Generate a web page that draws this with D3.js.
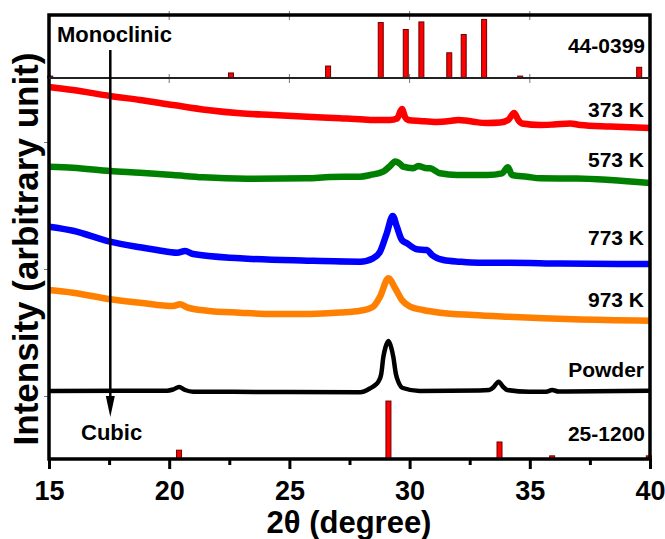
<!DOCTYPE html>
<html>
<head>
<meta charset="utf-8">
<script src="https://cdn.jsdelivr.net/npm/d3@7"></script>
<style>
  body { margin: 0; background: #fff; }
  text { font-family: "Liberation Sans", Arial, sans-serif; font-weight: bold; fill: #000; }
</style>
</head>
<body>
<svg id="chart" width="665" height="539"></svg>
<script>

// 2theta tick labels
var xTicks = [15, 20, 25, 30, 35, 40];
var xMinor = [17.5, 22.5, 27.5, 32.5, 37.5];

// reference card 44-0399 (monoclinic), relative intensity
var monoPos = [15.05, 22.57, 26.61, 28.80, 29.84, 30.49, 31.65, 32.25, 33.10, 34.60, 39.55];
var monoInt = [3, 8, 19, 88, 77, 89, 40, 69, 93, 3, 17];

// reference card 25-1200 (cubic), relative intensity
var cubicPos = [20.41, 29.12, 33.74, 35.93, 39.95];
var cubicInt = [14, 92, 27, 5, 5];

// measured patterns, [2theta, intensity a.u.] (already stacked)
var k373 = [[15.0,309],[16.0,306],[17.54,300],[18.79,296],[20.16,291],[21.58,286],[22.95,282.7],
  [24.32,281],[25.74,279.3],[27.11,277.7],[27.94,276.7],[28.36,276],[29.19,276],[29.48,277.5],
  [29.68,287],[29.81,279],[29.94,276],[30.44,275],[31.13,274],[31.69,275],[32.02,276],[32.31,275.5],
  [32.73,274],[33.23,273],[33.77,273.5],[34.10,276],[34.35,283],[34.52,276],[34.68,272.5],
  [35.43,271],[36.0,271.5],[36.68,272.5],[37.1,271],[38.35,269.5],[40.0,268]];

var k573 = [[15.0,229.3],[16.0,228.3],[17.54,225],[18.79,223.3],[20.16,221],[21.41,218.7],[23.24,217.3],
  [25.74,217.7],[26.69,219],[27.94,219.3],[28.36,221],[28.90,224.3],[29.19,230],[29.40,234.5],
  [29.61,232],[29.73,229.3],[30.15,227.7],[30.36,230],[30.65,228],[30.86,227.7],[31.27,222.7],
  [31.98,221],[33.23,221],[33.85,222.7],[34.09,228.7],[34.26,221],[34.88,219.3],[35.43,217.7],
  [36.97,217.5],[38.35,216],[40.0,213]];

var k773 = [[15.0,169.3],[16.0,165.3],[17.54,154.3],[18.79,148.7],[19.49,146],[20.33,143.3],[20.66,145],
  [21.0,142],[22.95,137.7],[25.74,135.3],[27.94,134.3],[28.48,137.7],[28.77,144.3],[29.05,162.7],
  [29.30,180],[29.47,169.3],[29.68,156],[29.89,152.7],[30.30,146.7],[30.72,146],[30.93,141],
  [31.41,136],[32.10,134.3],[32.85,133.3],[34.14,133.3],[36.27,132.5],[40.0,132]];

var k973 = [[15.0,106],[16.0,103.3],[17.54,96.7],[18.79,93.3],[20.16,90],[20.45,91.7],[20.74,88.7],
  [21.58,85.3],[22.95,83.3],[24.32,82],[25.74,82],[26.40,82.5],[27.11,83.5],[27.94,85.3],
  [28.48,89.3],[28.77,99.3],[29.12,117.7],[29.40,107.7],[29.68,96],[30.02,89.3],[30.56,86],
  [31.27,83.3],[32.64,81],[34.06,79.3],[36.81,76.7],[40.0,75.3]];

var powder = [[15.0,5],[19.91,5.3],[20.16,6.5],[20.41,9],[20.66,6],[21.0,4.3],[25.0,4],[27.94,3.7],
  [28.36,7.7],[28.57,11],[28.70,14.3],[28.82,22],[28.91,39.3],[29.0,49],[29.12,55],[29.23,49],
  [29.32,39.3],[29.43,22],[29.53,14.3],[29.72,8],[30.42,5],[32.90,5.5],[33.31,6],[33.50,9],
  [33.70,14.3],[33.90,9],[34.06,6],[34.98,4.3],[35.68,4.3],[35.93,6],[36.2,4.5],[40.0,5.3]];

var traces = [k373, k573, k773, k973, powder];
var traceNames = ["373 K", "573 K", "773 K", "973 K", "Powder"];
var labelLevel = [279, 229, 151, 89, 19];

var traceColors = ["#ff0000", "#008000", "#0000ff", "#ff8000", "#000000"];

var svg = d3.select("#chart");

var x = d3.scaleLinear().domain([15, 40]).range([49, 650]);
var yTop = d3.scaleLinear().domain([0, 100]).range([78, 15]);
var yMain = d3.scaleLinear().domain([0, 318]).range([396, 78]);
var yBot = d3.scaleLinear().domain([0, 100]).range([459, 396]);

/*
 * axes
 */
var xAxis = svg.append("g")
    .attr("transform", "translate(0," + yBot(0) + ")")
    .call(d3.axisBottom(x).tickValues(xTicks).tickSize(10).tickPadding(12).tickFormat(d3.format("d")));
xAxis.select(".domain").remove();
xAxis.selectAll("line").attr("stroke", "#000").attr("stroke-width", 3);
xAxis.selectAll("text").style("font-size", "27px");

var xAxisMinor = svg.append("g")
    .attr("transform", "translate(0," + yBot(0) + ")")
    .call(d3.axisBottom(x).tickValues(xMinor).tickSize(6).tickFormat(""));
xAxisMinor.select(".domain").remove();
xAxisMinor.selectAll("line").attr("stroke", "#000").attr("stroke-width", 3);

// little grey ticks on the divider and top frame
[yTop(0), yTop(100)].forEach(function(yy){
  svg.append("g").selectAll("line")
    .data(xTicks.slice(1, -1))
    .join("line")
      .attr("x1", function(d){ return x(d); })
      .attr("x2", function(d){ return x(d); })
      .attr("y1", yy - 4)
      .attr("y2", yy + 5)
      .attr("stroke", "#777")
      .attr("stroke-width", 1);
});

var yAxis = svg.append("g")
    .attr("transform", "translate(" + x(15) + ",0)")
    .call(d3.axisLeft(yMain).tickValues([0, 127, 254]).tickSize(5).tickFormat(""));
yAxis.select(".domain").remove();
yAxis.selectAll("line").attr("stroke", "#777");

/*
 * reference sticks
 */
svg.append("g").selectAll("rect")
  .data(monoPos)
  .join("rect")
    .attr("x", function(d){ return x(d) - 2.5; })
    .attr("y", function(d, i){ return yTop(monoInt[i]); })
    .attr("width", 5)
    .attr("height", function(d, i){ return yTop(0) - yTop(monoInt[i]); })
    .attr("fill", "#ff0000")
    .attr("stroke", "#6a0000")
    .attr("stroke-width", 1);

svg.append("g").selectAll("rect")
  .data(cubicPos)
  .join("rect")
    .attr("x", function(d){ return x(d) - 2.5; })
    .attr("y", function(d, i){ return yBot(cubicInt[i]); })
    .attr("width", 5)
    .attr("height", function(d, i){ return yBot(0) - yBot(cubicInt[i]); })
    .attr("fill", "#ff0000")
    .attr("stroke", "#6a0000")
    .attr("stroke-width", 1);

/*
 * patterns
 */
var line = d3.line()
    .x(function(d){ return x(d[0]); })
    .y(function(d){ return yMain(d[1]); })
    .curve(d3.curveMonotoneX);

svg.append("g").selectAll("path")
  .data(traces)
  .join("path")
    .attr("d", line)
    .attr("fill", "none")
    .attr("stroke", function(d, i){ return traceColors[i]; })
    .attr("stroke-width", function(d, i){ return i == 4 ? 4.5 : 6.5; })
    .attr("stroke-linejoin", "round");

svg.append("g").selectAll("text")
  .data(traceNames)
  .join("text")
    .attr("x", x(40) - 6)
    .attr("y", function(d, i){ return yMain(labelLevel[i]); })
    .attr("text-anchor", "end")
    .style("font-size", "21px")
    .text(function(d){ return d; });

/*
 * frame
 */
svg.append("rect")
    .attr("x", x(15)).attr("y", yTop(100))
    .attr("width", x(40) - x(15)).attr("height", yBot(0) - yTop(100))
    .attr("fill", "none").attr("stroke", "#000").attr("stroke-width", 3.5);
svg.append("line")
    .attr("x1", x(15)).attr("x2", x(40))
    .attr("y1", yTop(0)).attr("y2", yTop(0))
    .attr("stroke", "#222").attr("stroke-width", 2);

// arrow monoclinic -> cubic
var ax = x(17.55);
svg.append("line")
    .attr("x1", ax).attr("x2", ax)
    .attr("y1", 50).attr("y2", 400)
    .attr("stroke", "#000").attr("stroke-width", 2.5);
svg.append("path")
    .attr("d", "M" + (ax - 4.5) + ",396L" + (ax + 4.5) + ",396L" + ax + ",417Z")
    .attr("fill", "#000");

svg.append("text").attr("x", 57).attr("y", 42).style("font-size", "22px").text("Monoclinic");
svg.append("text").attr("x", 81).attr("y", 440).style("font-size", "22px").text("Cubic");
svg.append("text").attr("x", x(40) - 5).attr("y", 53).attr("text-anchor", "end").style("font-size", "21px").text("44-0399");
svg.append("text").attr("x", x(40) - 5).attr("y", 441).attr("text-anchor", "end").style("font-size", "21px").text("25-1200");

// axis titles
svg.append("text")
    .attr("transform", "translate(38,249) rotate(-90)")
    .attr("text-anchor", "middle")
    .style("font-size", "35px")
    .text("Intensity (arbitrary unit)");

svg.append("text")
    .attr("x", 349).attr("y", 533)
    .attr("text-anchor", "middle")
    .style("font-size", "31px")
    .text("2\u03b8 (degree)");

</script>
</body>
</html>
